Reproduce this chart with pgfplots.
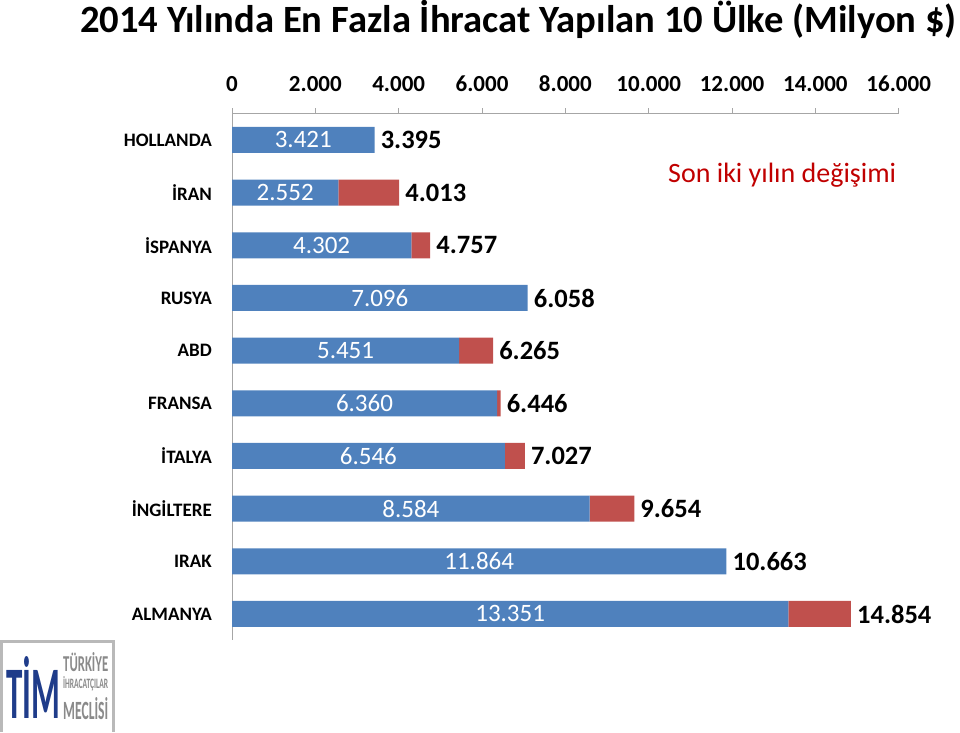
\documentclass[border=0pt]{standalone}
\usepackage{fontspec}
\setmainfont{Carlito}
\usepackage{graphicx}
\usepackage{pgfplots}
\pgfplotsset{compat=1.18}
\definecolor{barblue}{HTML}{4F81BD}
\definecolor{barred}{HTML}{C0504D}
\definecolor{axgray}{HTML}{A6A6A6}
\definecolor{txtred}{HTML}{C00000}
\definecolor{logoblue}{HTML}{1F3C8A}
\definecolor{logogray}{HTML}{8A8A8A}
\newcommand\fs[1]{\fontsize{#1}{#1}\selectfont}
\begin{document}
\begin{tikzpicture}[x=1pt,y=1pt]
\path[use as bounding box] (0,0) rectangle (960,732);
\begin{axis}[
  at={(232pt,91.7pt)}, anchor=south west,
  scale only axis, width=666.7pt, height=526.7pt,
  xmin=0, xmax=16000, ymin=-0.5, ymax=9.5, y dir=reverse,
  xbar stacked, bar width=26pt,
  axis x line*=top, axis y line*=left,
  axis line style={draw=axgray, line width=0.8pt, -},
  xtick={0,2000,...,16000},
  xtick align=outside, major tick length=5.6pt,
  xtick style={draw=axgray, line width=0.8pt},
  scaled x ticks=false,
  xticklabel style={font=\bfseries\fs{23}, inner sep=0pt, yshift=16pt,
    /pgf/number format/1000 sep={.}, /pgf/number format/assume math mode=true},
  ytick={0,...,9},
  yticklabels={HOLLANDA,İRAN,İSPANYA,RUSYA,ABD,FRANSA,İTALYA,İNGİLTERE,IRAK,ALMANYA},
  ytick style={draw=none},
  yticklabel style={font=\bfseries\fs{19}, anchor=east, inner sep=0pt, xshift=-20pt},
  clip=false,
]
% 2013 value (blue) and the increase to 2014 where there is one (red)
\addplot[fill=barblue, draw=none] coordinates {
  (3421,0) (2552,1) (4302,2) (7096,3) (5451,4) (6360,5) (6546,6) (8584,7) (11864,8) (13351,9)};
\addplot[fill=barred, draw=none] coordinates {
  (0,0) (1461,1) (455,2) (0,3) (814,4) (86,5) (481,6) (1070,7) (0,8) (1503,9)};
\end{axis}
\begin{axis}[
  at={(232pt,91.7pt)}, anchor=south west,
  scale only axis, width=666.7pt, height=526.7pt,
  xmin=0, xmax=16000, ymin=-0.5, ymax=9.5, y dir=reverse,
  hide axis, clip=false,
]
% labels inside the blue bars
\addplot[draw=none, mark=none, nodes near coords, point meta=explicit symbolic,
  every node near coord/.append style={font=\fs{25}, text=white, anchor=center, inner sep=0pt}] coordinates {
  (1710.5,0) [3.421] (1276,1) [2.552] (2151,2) [4.302] (3548,3) [7.096] (2725.5,4) [5.451]
  (3180,5) [6.360] (3273,6) [6.546] (4292,7) [8.584] (5932,8) [11.864] (6675.5,9) [13.351]};
% 2014 labels at the end of each bar
\addplot[draw=none, mark=none, nodes near coords, point meta=explicit symbolic,
  every node near coord/.append style={font=\bfseries\fs{26.5}, text=black, anchor=west, inner sep=0pt, xshift=6pt}] coordinates {
  (3421,0) [3.395] (4013,1) [4.013] (4757,2) [4.757] (7096,3) [6.058] (6265,4) [6.265]
  (6446,5) [6.446] (7027,6) [7.027] (9654,7) [9.654] (11864,8) [10.663] (14854,9) [14.854]};
\end{axis}
\node[anchor=base west, font=\bfseries\fs{38.6}, inner sep=0pt] at (80,699) {2014 Yılında En Fazla İhracat Yapılan 10 Ülke (Milyon \$)};
\node[anchor=base west, font=\fs{28}, text=txtred, inner sep=0pt] at (668,549) {Son iki yılın değişimi};
% logo
\fill[white] (1.5,0) rectangle (113,91);
\draw[draw=logogray!60, line width=3pt] (1.5,0) -- (1.5,91) -- (113,91) -- (113,0);
\node[anchor=south west, inner sep=0pt, text=logoblue] at (6,13) {\resizebox{54pt}{62pt}{\bfseries TİM}};
\node[anchor=north west, inner sep=0pt, text=logogray] at (63,80) {\resizebox{45pt}{19pt}{\bfseries TÜRKİYE}};
\node[anchor=north west, inner sep=0pt, text=logogray] at (63,56) {\resizebox{45pt}{12pt}{\bfseries İHRACATÇILAR}};
\node[anchor=north west, inner sep=0pt, text=logogray] at (63,35) {\resizebox{45pt}{22pt}{\bfseries MECLİSİ}};
\end{tikzpicture}
\end{document}
